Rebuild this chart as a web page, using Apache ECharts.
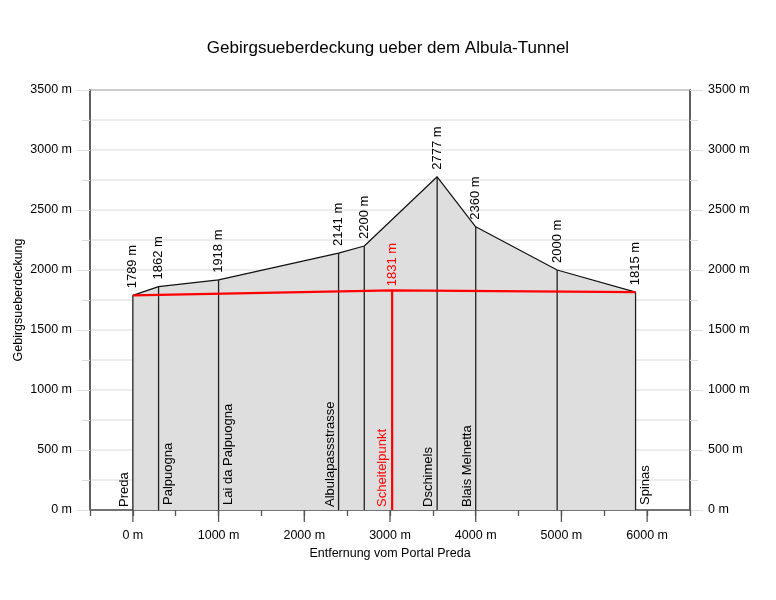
<!DOCTYPE html>
<html><head><meta charset="utf-8">
<script src="https://cdn.jsdelivr.net/npm/echarts@6/dist/echarts.min.js"></script>
<style>html,body{margin:0;padding:0;background:#fff}#c{width:776px;height:600px}</style>
</head><body><div id="c"></div>
<script>
const distances = [0, 300, 1000, 2400, 2700, 3550, 4000, 4950, 5865];
const elevations = [1789, 1862, 1918, 2141, 2200, 2777, 2360, 2000, 1815];
const stationNames = ['Preda', 'Palpuogna', 'Lai da Palpuogna', 'Albulapassstrasse', '', 'Dschimels', 'Blais Melnetta', '', 'Spinas'];
const tunnelDist = [0, 3025, 5865];
const tunnelElev = [1789, 1831, 1815];
const apexDist = 3025, apexElev = 1831, apexName = 'Scheitelpunkt';
const majorXTicks = [0, 1000, 2000, 3000, 4000, 5000, 6000];

// which side of its vertical line each station name is drawn on
const nameOnRight = [false, true, true, false, false, false, false, false, true];

const FONT = 'Liberation Sans, Arial, sans-serif';
const chart = echarts.init(document.getElementById('c'));

const profileData = distances.map((d, i) => [d, elevations[i]]);
const tunnelData = tunnelDist.map((d, i) => [d, tunnelElev[i]]);
const stationData = distances.map((d, i) => [d, elevations[i], i]);

function rotText(x, y, text, color, vAlign) {
  return { type: 'text', x: x, y: y, rotation: Math.PI / 2,
    style: { text: text, fill: color, font: '13px ' + FONT, align: 'left', verticalAlign: vAlign } };
}

const yAxisCommon = {
  type: 'value', min: 0, max: 3500, interval: 500,
  axisLine: { show: true, onZero: false, lineStyle: { color: '#555', width: 1.5 } },
  axisTick: { show: true, length: 13, lineStyle: { color: '#ddd' } },
  minorTick: { show: true, splitNumber: 2, length: 8, lineStyle: { color: '#ddd' } },
  splitLine: { show: true, lineStyle: { color: '#e6e6e6', width: 1.5 } },
  minorSplitLine: { show: true, lineStyle: { color: '#e6e6e6', width: 1.5 } },
  axisLabel: { formatter: v => v + ' m', color: '#000', fontSize: 12.5, fontFamily: FONT, margin: 18 }
};

chart.setOption({
  animation: false,
  title: { text: 'Gebirgsueberdeckung ueber dem Albula-Tunnel', left: 'center', top: 35,
    textStyle: { fontSize: 17, fontWeight: 'normal', color: '#000', fontFamily: FONT } },
  grid: { left: 90, right: 86, top: 90, bottom: 90, outerBoundsMode: 'none', show: true, borderColor: '#555', borderWidth: 1.5, backgroundColor: 'transparent' },
  xAxis: { type: 'value', min: -500, max: 6500, interval: 500,
    name: 'Entfernung vom Portal Preda', nameLocation: 'middle', nameGap: 30,
    nameTextStyle: { fontSize: 12.5, color: '#000', fontFamily: FONT },
    axisLine: { show: true, onZero: false, lineStyle: { color: '#555', width: 1.5 } },
    axisTick: { show: true, length: 6, lineStyle: { color: '#555', width: 1.3 } },
    splitLine: { show: false },
    axisLabel: { formatter: v => (v % 1000 === 0 ? v + ' m' : ''), color: '#000', fontSize: 12.5, fontFamily: FONT, margin: 19 }
  },
  yAxis: [
    Object.assign({}, yAxisCommon, { position: 'left', name: 'Gebirgsueberdeckung', nameLocation: 'middle', nameGap: 65,
      nameMoveOverlap: false,
      nameTextStyle: { fontSize: 12.5, color: '#000', fontFamily: FONT } }),
    Object.assign({}, yAxisCommon, { position: 'right', splitLine: { show: false }, minorSplitLine: { show: false } })
  ],
  series: [
    { type: 'line', data: profileData, symbol: 'none', z: 2,
      lineStyle: { color: '#111', width: 1.2 },
      areaStyle: { color: '#dedede', opacity: 1, origin: 'start' } },
    { type: 'custom', z: 3, data: stationData, clip: false,
      renderItem: function (params, api) {
        const i = api.value(2);
        const top = api.coord([api.value(0), api.value(1)]);
        const bot = api.coord([api.value(0), 0]);
        const ch = [
          { type: 'line', shape: { x1: bot[0], y1: bot[1], x2: top[0], y2: top[1] }, style: { stroke: '#222', lineWidth: 1.3 } },
          rotText(top[0], top[1] - 7, elevations[i] + ' m', '#000', 'middle')
        ];
        const nm = stationNames[i];
        if (nm) {
          if (nameOnRight[i]) ch.push(rotText(bot[0] + 3, bot[1] - 5, nm, '#000', 'top'));
          else ch.push(rotText(bot[0] - 2, bot[1] - 3, nm, '#000', 'bottom'));
        }
        return { type: 'group', children: ch };
      } },
    { type: 'line', data: tunnelData, symbol: 'none', z: 4,
      lineStyle: { color: '#ff0000', width: 2.2 } },
    { type: 'custom', z: 5, data: [[apexDist, apexElev]], clip: false,
      renderItem: function (params, api) {
        const top = api.coord([api.value(0), api.value(1)]);
        const bot = api.coord([api.value(0), 0]);
        return { type: 'group', children: [
          { type: 'line', shape: { x1: bot[0], y1: bot[1], x2: top[0], y2: top[1] }, style: { stroke: '#ff0000', lineWidth: 2.2 } },
          rotText(top[0], top[1] - 4, api.value(1) + ' m', '#ff0000', 'middle'),
          rotText(bot[0] - 3, bot[1] - 3, apexName, '#ff0000', 'bottom')
        ] };
      } },
    { type: 'custom', z: 6, data: majorXTicks.map(v => [v]), clip: false,
      renderItem: function (params, api) {
        const p = api.coord([api.value(0), 0]);
        return { type: 'line', shape: { x1: p[0], y1: p[1], x2: p[0], y2: p[1] + 12 }, style: { stroke: '#555', lineWidth: 1.3 } };
      } }
  ]
});
</script></body></html>
